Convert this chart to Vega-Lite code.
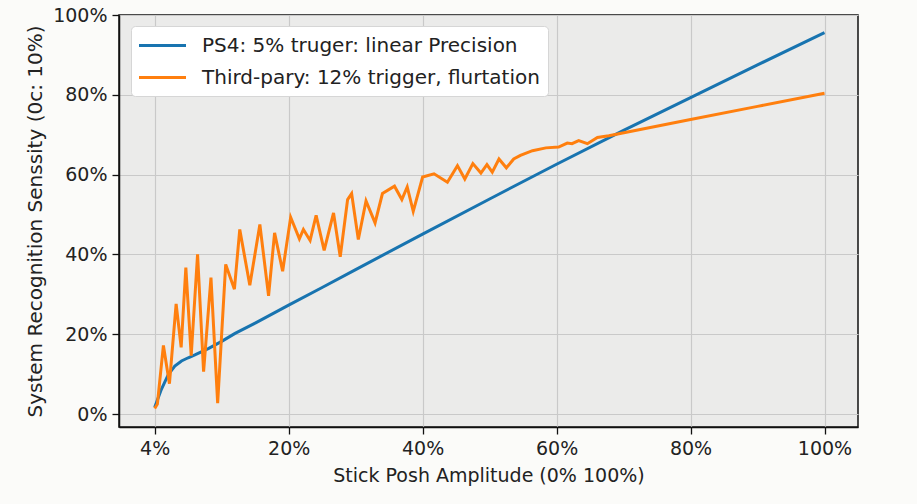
{
  "$schema": "https://vega.github.io/schema/vega-lite/v6.json",
  "width": 739,
  "height": 412,
  "autosize": {"type": "none"},
  "padding": {"left": 119, "top": 15, "right": 59, "bottom": 77},
  "background": "#fbfbf9",
  "data": {
    "values": [
      {"amp": 0, "sens": 1.7, "series": "PS4: 5% truger: linear Precision"},
      {"amp": 1, "sens": 6.2, "series": "PS4: 5% truger: linear Precision"},
      {"amp": 2, "sens": 9.8, "series": "PS4: 5% truger: linear Precision"},
      {"amp": 3, "sens": 12.0, "series": "PS4: 5% truger: linear Precision"},
      {"amp": 4, "sens": 13.3, "series": "PS4: 5% truger: linear Precision"},
      {"amp": 5, "sens": 14.1, "series": "PS4: 5% truger: linear Precision"},
      {"amp": 6, "sens": 14.8, "series": "PS4: 5% truger: linear Precision"},
      {"amp": 8, "sens": 16.4, "series": "PS4: 5% truger: linear Precision"},
      {"amp": 10, "sens": 18.2, "series": "PS4: 5% truger: linear Precision"},
      {"amp": 12, "sens": 20.2, "series": "PS4: 5% truger: linear Precision"},
      {"amp": 15, "sens": 22.8, "series": "PS4: 5% truger: linear Precision"},
      {"amp": 20, "sens": 27.3, "series": "PS4: 5% truger: linear Precision"},
      {"amp": 25, "sens": 31.7, "series": "PS4: 5% truger: linear Precision"},
      {"amp": 30, "sens": 36.2, "series": "PS4: 5% truger: linear Precision"},
      {"amp": 40, "sens": 45.1, "series": "PS4: 5% truger: linear Precision"},
      {"amp": 50, "sens": 53.9, "series": "PS4: 5% truger: linear Precision"},
      {"amp": 60, "sens": 62.6, "series": "PS4: 5% truger: linear Precision"},
      {"amp": 70, "sens": 71.1, "series": "PS4: 5% truger: linear Precision"},
      {"amp": 80, "sens": 79.3, "series": "PS4: 5% truger: linear Precision"},
      {"amp": 90, "sens": 87.5, "series": "PS4: 5% truger: linear Precision"},
      {"amp": 100, "sens": 95.6, "series": "PS4: 5% truger: linear Precision"},
      {"amp": 0, "sens": 1.4, "series": "Third-pary: 12% trigger, flurtation"},
      {"amp": 0.4, "sens": 2.5, "series": "Third-pary: 12% trigger, flurtation"},
      {"amp": 1.3, "sens": 17.2, "series": "Third-pary: 12% trigger, flurtation"},
      {"amp": 2.2, "sens": 7.6, "series": "Third-pary: 12% trigger, flurtation"},
      {"amp": 3.2, "sens": 27.6, "series": "Third-pary: 12% trigger, flurtation"},
      {"amp": 3.95, "sens": 16.7, "series": "Third-pary: 12% trigger, flurtation"},
      {"amp": 4.65, "sens": 36.7, "series": "Third-pary: 12% trigger, flurtation"},
      {"amp": 5.45, "sens": 14.6, "series": "Third-pary: 12% trigger, flurtation"},
      {"amp": 6.4, "sens": 40, "series": "Third-pary: 12% trigger, flurtation"},
      {"amp": 7.3, "sens": 10.6, "series": "Third-pary: 12% trigger, flurtation"},
      {"amp": 8.4, "sens": 34.2, "series": "Third-pary: 12% trigger, flurtation"},
      {"amp": 9.4, "sens": 2.75, "series": "Third-pary: 12% trigger, flurtation"},
      {"amp": 10.6, "sens": 37.5, "series": "Third-pary: 12% trigger, flurtation"},
      {"amp": 11.9, "sens": 31.3, "series": "Third-pary: 12% trigger, flurtation"},
      {"amp": 12.7, "sens": 46.25, "series": "Third-pary: 12% trigger, flurtation"},
      {"amp": 14.2, "sens": 32.25, "series": "Third-pary: 12% trigger, flurtation"},
      {"amp": 15.7, "sens": 47.5, "series": "Third-pary: 12% trigger, flurtation"},
      {"amp": 17.0, "sens": 29.6, "series": "Third-pary: 12% trigger, flurtation"},
      {"amp": 17.9, "sens": 45.4, "series": "Third-pary: 12% trigger, flurtation"},
      {"amp": 19.1, "sens": 35.8, "series": "Third-pary: 12% trigger, flurtation"},
      {"amp": 20.3, "sens": 49.3, "series": "Third-pary: 12% trigger, flurtation"},
      {"amp": 21.6, "sens": 43.9, "series": "Third-pary: 12% trigger, flurtation"},
      {"amp": 22.2, "sens": 46.25, "series": "Third-pary: 12% trigger, flurtation"},
      {"amp": 23.2, "sens": 43.5, "series": "Third-pary: 12% trigger, flurtation"},
      {"amp": 24.1, "sens": 49.8, "series": "Third-pary: 12% trigger, flurtation"},
      {"amp": 25.3, "sens": 41, "series": "Third-pary: 12% trigger, flurtation"},
      {"amp": 26.7, "sens": 50.4, "series": "Third-pary: 12% trigger, flurtation"},
      {"amp": 27.7, "sens": 39.4, "series": "Third-pary: 12% trigger, flurtation"},
      {"amp": 28.8, "sens": 53.75, "series": "Third-pary: 12% trigger, flurtation"},
      {"amp": 29.4, "sens": 55.25, "series": "Third-pary: 12% trigger, flurtation"},
      {"amp": 30.4, "sens": 43.75, "series": "Third-pary: 12% trigger, flurtation"},
      {"amp": 31.55, "sens": 53.4, "series": "Third-pary: 12% trigger, flurtation"},
      {"amp": 32.9, "sens": 47.9, "series": "Third-pary: 12% trigger, flurtation"},
      {"amp": 34, "sens": 55.25, "series": "Third-pary: 12% trigger, flurtation"},
      {"amp": 35.8, "sens": 57.1, "series": "Third-pary: 12% trigger, flurtation"},
      {"amp": 36.9, "sens": 53.75, "series": "Third-pary: 12% trigger, flurtation"},
      {"amp": 37.7, "sens": 56.9, "series": "Third-pary: 12% trigger, flurtation"},
      {"amp": 38.6, "sens": 50.8, "series": "Third-pary: 12% trigger, flurtation"},
      {"amp": 40, "sens": 59.4, "series": "Third-pary: 12% trigger, flurtation"},
      {"amp": 41.7, "sens": 60.2, "series": "Third-pary: 12% trigger, flurtation"},
      {"amp": 43.7, "sens": 58.1, "series": "Third-pary: 12% trigger, flurtation"},
      {"amp": 45.2, "sens": 62.25, "series": "Third-pary: 12% trigger, flurtation"},
      {"amp": 46.3, "sens": 58.9, "series": "Third-pary: 12% trigger, flurtation"},
      {"amp": 47.5, "sens": 62.75, "series": "Third-pary: 12% trigger, flurtation"},
      {"amp": 48.7, "sens": 60.4, "series": "Third-pary: 12% trigger, flurtation"},
      {"amp": 49.6, "sens": 62.5, "series": "Third-pary: 12% trigger, flurtation"},
      {"amp": 50.4, "sens": 60.6, "series": "Third-pary: 12% trigger, flurtation"},
      {"amp": 51.4, "sens": 63.9, "series": "Third-pary: 12% trigger, flurtation"},
      {"amp": 52.5, "sens": 61.7, "series": "Third-pary: 12% trigger, flurtation"},
      {"amp": 53.6, "sens": 63.9, "series": "Third-pary: 12% trigger, flurtation"},
      {"amp": 54.6, "sens": 64.8, "series": "Third-pary: 12% trigger, flurtation"},
      {"amp": 56.4, "sens": 66, "series": "Third-pary: 12% trigger, flurtation"},
      {"amp": 58.4, "sens": 66.7, "series": "Third-pary: 12% trigger, flurtation"},
      {"amp": 60.3, "sens": 66.9, "series": "Third-pary: 12% trigger, flurtation"},
      {"amp": 61.6, "sens": 67.9, "series": "Third-pary: 12% trigger, flurtation"},
      {"amp": 62.3, "sens": 67.75, "series": "Third-pary: 12% trigger, flurtation"},
      {"amp": 63.3, "sens": 68.5, "series": "Third-pary: 12% trigger, flurtation"},
      {"amp": 64.6, "sens": 67.75, "series": "Third-pary: 12% trigger, flurtation"},
      {"amp": 66.1, "sens": 69.3, "series": "Third-pary: 12% trigger, flurtation"},
      {"amp": 67.8, "sens": 69.75, "series": "Third-pary: 12% trigger, flurtation"},
      {"amp": 80, "sens": 73.8, "series": "Third-pary: 12% trigger, flurtation"},
      {"amp": 90, "sens": 77.1, "series": "Third-pary: 12% trigger, flurtation"},
      {"amp": 100, "sens": 80.4, "series": "Third-pary: 12% trigger, flurtation"}
    ]
  },
  "mark": {"type": "line", "strokeWidth": 3, "clip": true},
  "encoding": {
    "x": {
      "field": "amp",
      "type": "quantitative",
      "title": "Stick Posh Amplitude (0% 100%)",
      "scale": {"domain": [-5.33, 105], "nice": false, "zero": false},
      "axis": {
        "values": [0, 20, 40, 60, 80, 100],
        "labelExpr": "datum.value == 0 ? '4%' : datum.value + '%'",
        "labelPadding": 5,
        "titleFontSize": 19,
        "titlePadding": 8
      }
    },
    "y": {
      "field": "sens",
      "type": "quantitative",
      "title": "System Recognition Senssity (0c: 10%)",
      "scale": {"domain": [-3.25, 100], "nice": false, "zero": false},
      "axis": {
        "values": [0, 20, 40, 60, 80, 100],
        "labelExpr": "datum.value + '%'",
        "labelPadding": 5,
        "titleFontSize": 20,
        "titlePadding": 7
      }
    },
    "color": {
      "field": "series",
      "type": "nominal",
      "scale": {
        "domain": ["PS4: 5% truger: linear Precision", "Third-pary: 12% trigger, flurtation"],
        "range": ["#1874b0", "#ff7f0e"]
      },
      "legend": {
        "title": null,
        "orient": "none",
        "legendX": 12,
        "legendY": 11,
        "symbolType": "M-2.35,0H2.35",
        "symbolSize": 400,
        "symbolOffset": 12,
        "symbolStrokeWidth": 3,
        "labelFontSize": 20,
        "labelLimit": 0,
        "labelOffset": 28,
        "rowPadding": 10,
        "padding": 8,
        "fillColor": "#ffffff",
        "strokeColor": "#d6d6d6",
        "cornerRadius": 4
      }
    }
  },
  "config": {
    "font": "DejaVu Sans",
    "view": {"fill": "#ebebea", "stroke": "#111111", "strokeWidth": 1.5},
    "axis": {
      "labelFont": "DejaVu Sans",
      "titleFont": "DejaVu Sans",
      "labelFontSize": 19,
      "titleFontWeight": "normal",
      "labelColor": "#222222",
      "titleColor": "#222222",
      "domainColor": "#111111",
      "domainWidth": 1.5,
      "tickColor": "#111111",
      "tickSize": 7,
      "tickWidth": 1.3,
      "gridColor": "#c9c9c9",
      "gridWidth": 1.2
    },
    "legend": {"labelFont": "DejaVu Sans", "labelColor": "#222222"}
  }
}
